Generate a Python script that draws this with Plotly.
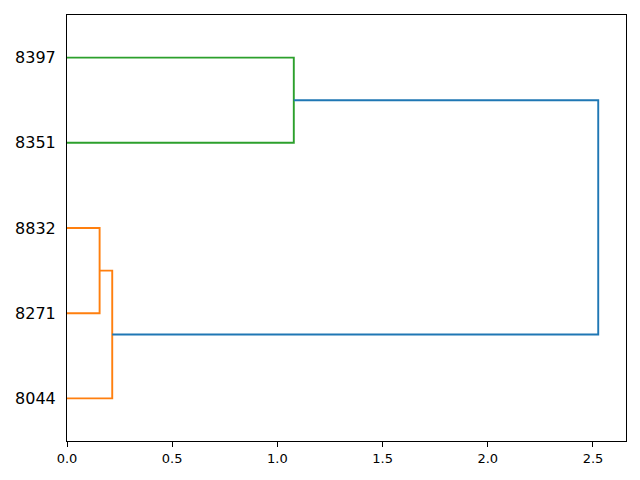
import plotly.graph_objects as go

# Leaves, bottom to top
leaf_labels = ["8044", "8271", "8832", "8351", "8397"]
# Merges: node ids 0..4 are leaves, 5.. are merges in order
merge_a = [2, 5, 4, 7]
merge_b = [1, 0, 3, 6]
merge_height = [0.155, 0.215, 1.078, 2.525]
merge_color = ["#ff7f0e", "#ff7f0e", "#2ca02c", "#1f77b4"]

n = len(leaf_labels)
pos = {i: 5 + 10 * i for i in range(n)}
hgt = {i: 0.0 for i in range(n)}

fig = go.Figure()
for k, (a, b, h, c) in enumerate(zip(merge_a, merge_b, merge_height, merge_color)):
    node = n + k
    fig.add_trace(go.Scatter(
        x=[hgt[a], h, h, hgt[b]],
        y=[pos[a], pos[a], pos[b], pos[b]],
        mode="lines", line=dict(color=c, width=1.9),
        showlegend=False, hoverinfo="skip"))
    pos[node] = (pos[a] + pos[b]) / 2
    hgt[node] = h

fig.update_layout(
    width=640, height=480,
    margin=dict(l=67, r=14, t=15, b=39),
    plot_bgcolor="white", paper_bgcolor="white",
    font=dict(family="DejaVu Sans", color="black"),
    xaxis=dict(range=[0, 2.657], tickvals=[0, 0.5, 1.0, 1.5, 2.0, 2.5],
               ticktext=["0.0", "0.5", "1.0", "1.5", "2.0", "2.5"],
               ticks="outside", ticklen=5, tickwidth=1, tickcolor="black",
               showgrid=False, zeroline=False, showline=True, linecolor="black",
               linewidth=1, mirror=True, tickfont=dict(size=13), automargin=False),
    yaxis=dict(range=[0, 50], tickvals=[pos[i] for i in range(n)], ticktext=leaf_labels,
               ticks="", showgrid=False, zeroline=False, showline=True,
               linecolor="black", linewidth=1, mirror=True, tickfont=dict(size=16),
               ticklabelstandoff=7, automargin=False),
)
fig.write_html("out.html", config={"displayModeBar": False},
               post_script="document.body.style.margin='0';")
